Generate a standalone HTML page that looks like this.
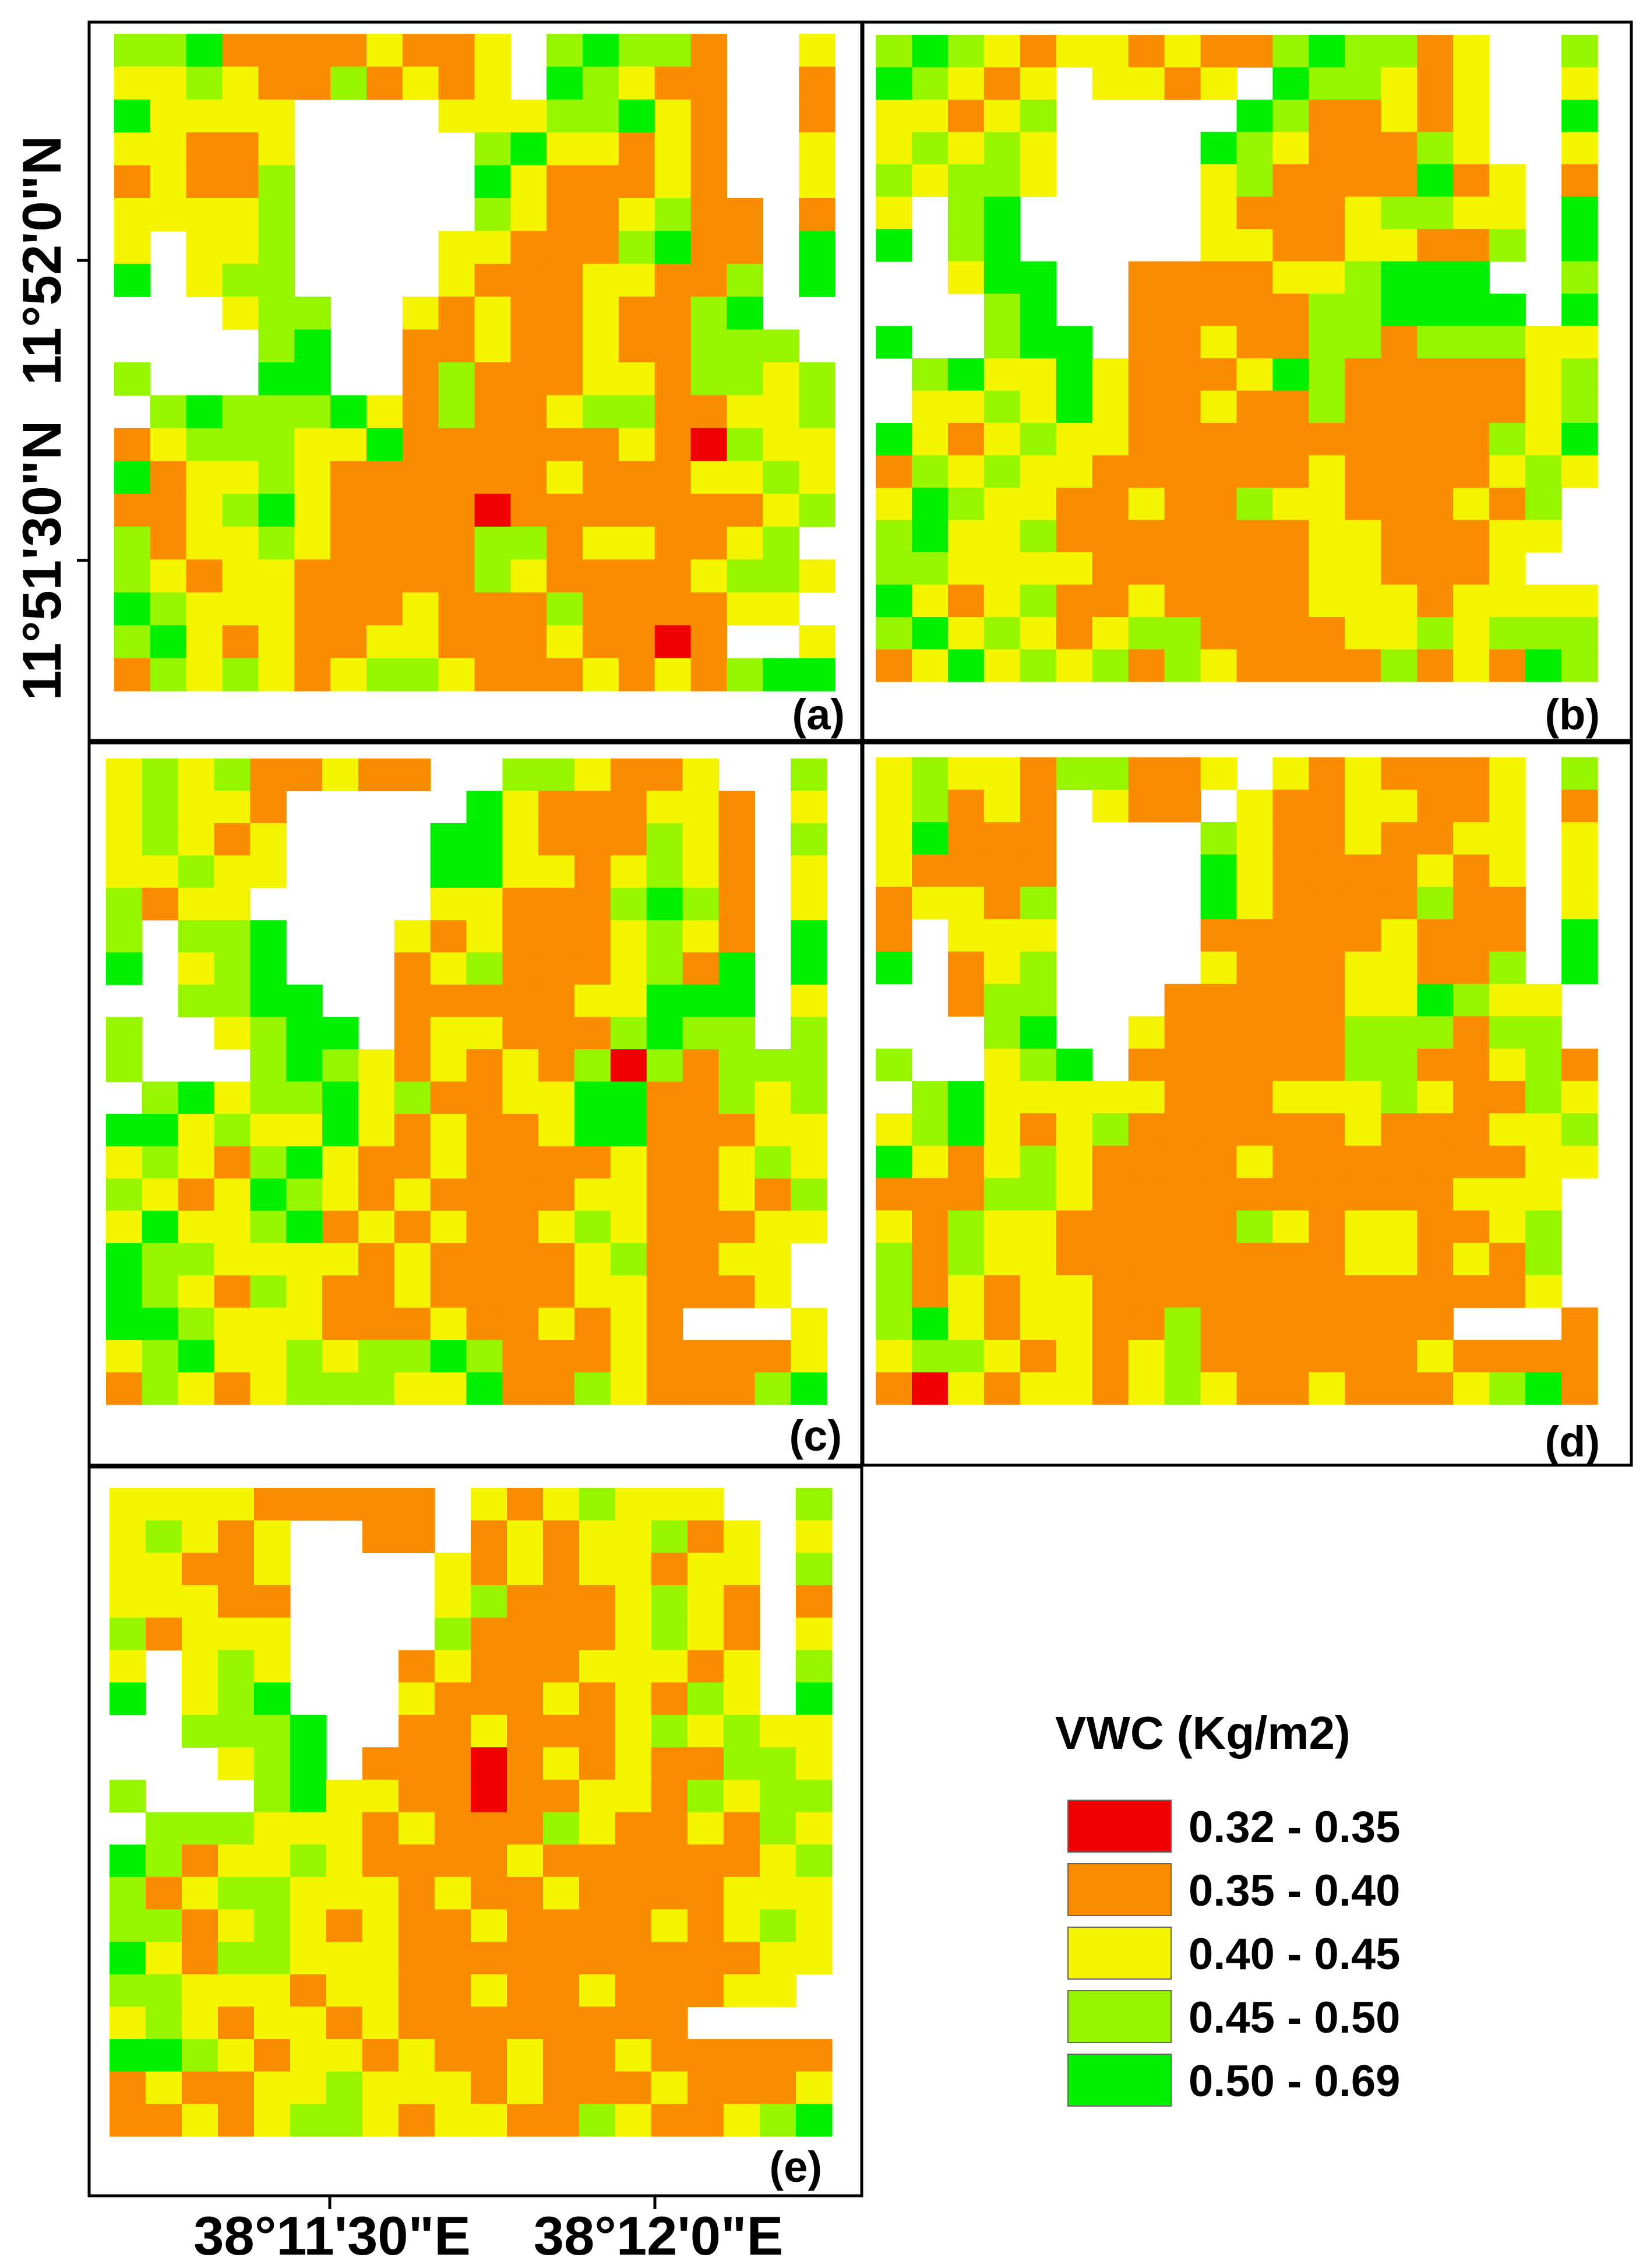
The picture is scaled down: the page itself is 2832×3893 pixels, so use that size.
<!DOCTYPE html>
<html><head><meta charset="utf-8">
<style>
html,body{margin:0;padding:0;background:#fff;}
svg{display:block;}
text{font-family:"Liberation Sans",Arial,sans-serif;font-weight:bold;fill:#000;}
</style></head>
<body>
<svg id="fig" width="2832" height="3893" viewBox="0 0 2832 3893" xmlns="http://www.w3.org/2000/svg">
  <g id="frames" fill="none" stroke="#000" stroke-width="5">
    <rect x="153" y="38" width="1326" height="1233"/>
    <rect x="1481" y="38" width="1319" height="1233"/>
    <rect x="153" y="1275" width="1326" height="1240"/>
    <rect x="1481" y="1275" width="1319" height="1240"/>
    <rect x="153" y="2518" width="1326" height="1251"/>
  </g>
  <g id="maps"></g>
  <text x="1450" y="1252" font-size="74" text-anchor="end">(a)</text>
  <text x="2746" y="1252" font-size="74" text-anchor="end">(b)</text>
  <text x="1445" y="2490" font-size="74" text-anchor="end">(c)</text>
  <text x="2746" y="2500" font-size="74" text-anchor="end">(d)</text>
  <text x="1411" y="3745" font-size="74" text-anchor="end">(e)</text>
  <g stroke="#000" stroke-width="5">
    <line x1="132" y1="447" x2="153" y2="447"/>
    <line x1="132" y1="962" x2="153" y2="962"/>
    <line x1="566" y1="3769" x2="566" y2="3792"/>
    <line x1="1124" y1="3769" x2="1124" y2="3792"/>
  </g>
  <text transform="translate(104,447) rotate(-90)" font-size="94" text-anchor="middle">11°52'0"N</text>
  <text transform="translate(104,962) rotate(-90)" font-size="94" text-anchor="middle">11°51'30"N</text>
  <text x="570" y="3870" font-size="94" text-anchor="middle">38°11'30"E</text>
  <text x="1130" y="3870" font-size="94" text-anchor="middle">38°12'0"E</text>
  <g id="legend">
    <text x="1811" y="3002" font-size="80">VWC (Kg/m2)</text>
  </g>
</svg>
<script>
const classColors = {R:"#f00000",O:"#fa8c00",Y:"#f5f500",L:"#98f500",G:"#00f000",W:"#ffffff"};
const legendKeys = ["R","O","Y","L","G"];
const legendLabels = ["0.32 - 0.35","0.35 - 0.40","0.40 - 0.45","0.45 - 0.50","0.50 - 0.69"];
const panelNames = ["a","b","c","d","e"];
const gridA = [
"LLGOOOOYOOYWLGLLOWWY","YYLYOOLOYOYWGLYOOWWO","GYYYYWWWWYYYLLGYOWWO","YYOOYWWWWWLGYYOYOWWY",
"OYOOLWWWWWGYOOOYOWWY","YYYYLWWWWWLYOOYLOOWO","YWYYLWWWWYYOOOLGOOWG","GWYLLWWWWYOOOYYOOLWG",
"WWWYLLWWYOYOOYOOLGWW","WWWWLGWWOOYOOYOOLLLW","LWWWGGWWOLOOOYYOLLYL","WLGLLLGYOLOOYLLOOYYL",
"OYLLLYYGOOOOOOYORLYY","GOYYLYOOOOOOYOOOYYLY","OOYLGYOOOOROOOOOOOYL","LOYYLYOOOOLLOYYOOYLW",
"LYOYYOOOOOLYOOOOYLLY","GLYYYOOOYOOOLOOOOYYW","LGYOYOOYYOOOYOOROWWY","OLYLYOYLLYOOOYOYOLGG"];
const gridB = [
"LGLYOYYOYOOLGLLOYWWL","GLYOYWYYOYWGLLYOYWWY","YYOYLWWWWWGLOOYOYWWG","YLYLYWWWWGLYOOOLYWWY",
"LYLLYWWWWYLOOOOGOYWO","YWLGWWWWWYOOOYLLYYWG","GWLGWWWWWYYOOYYOOLWG","WWYGGWWOOOOYYLGGGWWL",
"WWWLGWWOOOOOLLGGGGWG","GWWLGGWOOYOOLLOLLLYY","WLGYYGYOOOYGLOOOOOYL","WYYLYGYOOYOOLOOOOOYL",
"GYOYLYYOOOOOOOOOOLYG","OLYLYYOOOOOOYOOOOYLY","YGLYYOOYOOLYYOOOYOLW","LGYYLOOOOOOOYYOOOYYW",
"LLYYYYOOOOOOYYOOOYWW","GYOYLOOYOOOOYYYOYYYY","LGYLYOYLLOOOOYYLYLLL","OYGYLYLOLYOOOOLOYOGL"];
const gridC = [
"YLYLOOYOOWWLLYOOYWWL","YLYYOWWWWWGYOOOYYOWY","YLYOYWWWWGGYOOOLYOWL","YYLYYWWWWGGYYOYLYOWY",
"LOYYWWWWWYYOOOLGLOWY","LWLLGWWWYOYOOOYLYOWG","GWYLGWWWOYLOOOYLOGWG","WWLLGGWWOOOOOYYGGGWY",
"LWWYLGGWOYYOOOLGLLWL","LWWWLGLYOYOYOLRLOLLL","WLGYLLGYLOOYYGGOOLYL","GGYLYYGYOYOOYGGOOOYY",
"YLYOLGYOOYOOOOYOOYLY","LYOYGLYOYOOOOYYOOYOL","YGYYLGOYOYOOYLYOOOYY","GLLYYYYOYOOOOYLOOYYW",
"GLYOLYOOYOOOOYYOOOYW","GGLYYYOOOYOOYOYOWWWY","YLGYYLYLLGLOOOYOOOOY","OLYOYLLLYYGOOLYOOOLG"];
const gridD = [
"YLYYOLLOOYWYOYOOOYWL","YLOYOWYOOWYOOYYOOYWO","YGOOOWWWWLYOOYOOYYWY","YOOOOWWWWGYOOOOYOYWY",
"OYYOLWWWWGYOOOOLOOWY","OWYYYWWWWOOOOOYOOOWG","GWOYLWWWWYOOOYYOOLWG","WWOLLWWWOOOOOYYGLYYW",
"WWWLGWWYOOOOOLLLOLLW","LWWYLGWOOOOOOLLOOYLO","WLGYYYYYOOOYYYLYOOLY","YLGYOYLOOOOOOYOOOYYL",
"GYOYLYOOOOYOOOOOOOYY","OOOLLYOOOOOOOOOOYYYW","YOLYYOOOOOLYOYYOOYLW","LOLYYOOOOOOOOYYOYOLW",
"LOYOYYOOOOOOOOOOOOYW","LGYOYYOOLOOOOOOOWWWO","YLLYOYOYLOOOOOOYOOOO","ORYOYYOYLYOOYOOOYLGO"];
const gridE = [
"YYYYOOOOOWYOYLYYYWWL","YLYOYWWOOWOYOYYLOYWY","YYOOYWWWWYOYOYYOYYWL","YYYOOWWWWYLOOOYLYOWO",
"LOYYYWWWWLOOOOYLYOWY","YWYLYWWWOYOOOYYYOYWL","GWYLGWWWYOOOYOYOLYWG","WWLLLGWWOOYOOOYLYLYY",
"WWWYLGWOOOROYOYOOLLY","LWWWLGYYOOROOYYOLYLL","WLLLYYYOYOOOLYOOYOLY","GLOYYLYOOOOYOOOOOOYL",
"LOYLLYYYOYOOYOOOOYYY","LLOYLYOYOOYOOOOYOYLY","GYOLLYYYOOOOOOOOOOYY","LLYYYOYYOOYOOYOOOYYW",
"YLYOYYOYOOOOOOOOWWWW","GGLYOYYOYOOYOOYOOOOO","OYOOYYLYYYOYOOOYOOOY","OOYOYLLYOYYOOLYOOYLG"];
const grids = [gridA,gridB,gridC,gridD,gridE];
const extents = [[196,58,1433,1186],[1503,60,2742,1170],[182,1302,1419,2411],[1503,1300,2742,2411],[188,2554,1428,3667]];
const NS="http://www.w3.org/2000/svg";
const maps=document.getElementById("maps");
grids.forEach((g,pi)=>{
  const [x0,y0,x1,y1]=extents[pi];
  const rows=g.length, cols=g[0].length;
  const cw=(x1-x0)/cols, ch=(y1-y0)/rows;
  const grp=document.createElementNS(NS,"g");
  
  
  g.forEach((row,r)=>{
    for(let c=0;c<cols;c++){
      const k=row[c]; if(k==="W") continue;
      const rc=document.createElementNS(NS,"rect");
      rc.setAttribute("x",(x0+c*cw).toFixed(1));
      rc.setAttribute("y",(y0+r*ch).toFixed(1));
      rc.setAttribute("width",(cw+0.6).toFixed(1));
      rc.setAttribute("height",(ch+0.6).toFixed(1));
      rc.setAttribute("fill",classColors[k]);
      
      
      grp.appendChild(rc);
    }
  });
  maps.appendChild(grp);
});
const legend=document.getElementById("legend");
legendKeys.forEach((k,i)=>{
  const y=3090+i*109;
  const sw=document.createElementNS(NS,"rect");
  sw.setAttribute("x",1833);sw.setAttribute("y",y);
  sw.setAttribute("width",177);sw.setAttribute("height",89);
  sw.setAttribute("fill",classColors[k]);sw.setAttribute("stroke","#666");sw.setAttribute("stroke-width","2");
  
  
  legend.appendChild(sw);
  const t=document.createElementNS(NS,"text");
  t.setAttribute("x",2040);t.setAttribute("y",y+72);
  t.setAttribute("font-size","76");
  t.textContent=legendLabels[i];
  
  
  legend.appendChild(t);
});
</script>
</body></html>
